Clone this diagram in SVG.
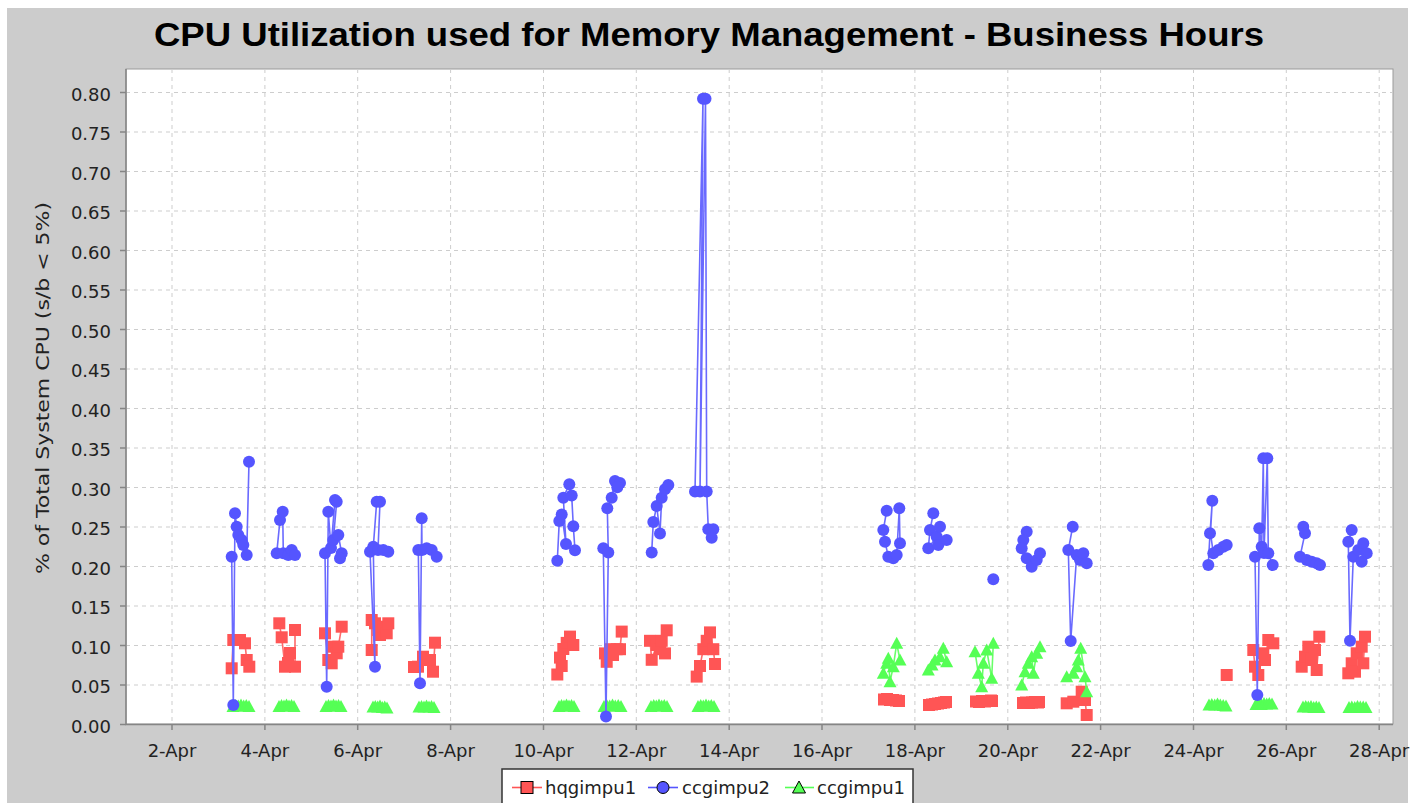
<svg xmlns="http://www.w3.org/2000/svg" xmlns:xlink="http://www.w3.org/1999/xlink" width="1426" height="803" viewBox="0 0 1426 803">
<style>
.lbl{font-family:"DejaVu Sans","Liberation Sans",sans-serif;font-size:18px;fill:#222}
.yl{text-anchor:end}
.xl{text-anchor:middle}
.grid{stroke:#cdcdcd;stroke-width:1;stroke-dasharray:4 4;fill:none}
.ln{fill:none;stroke-width:1.6;stroke-linejoin:round}
.rl{stroke:#ff6a6a}
.bl{stroke:#6a6aff}
.gl{stroke:#6aff6a}
</style>
<defs>
<rect id="s" x="-6" y="-6" width="12" height="12" fill="#ff5555"/>
<circle id="c" r="6" fill="#5555ff"/>
<path id="t" d="M0,-6.5L6.5,5.5H-6.5Z" fill="#55ff55"/>
</defs>
<rect x="0" y="0" width="1426" height="803" fill="#ffffff"/>
<rect x="7" y="8" width="1401" height="795" fill="#cccccc"/>
<text x="709" y="46" text-anchor="middle" font-family="Liberation Sans,Arial,sans-serif" font-weight="bold" font-size="34" textLength="1110" lengthAdjust="spacingAndGlyphs" fill="#000">CPU Utilization used for Memory Management - Business Hours</text>
<g id="plot">
<rect x="126" y="69" width="1267" height="655" fill="#ffffff" stroke="#9a9a9a" stroke-width="1"/>
<path class="grid" d="M172 69V724M264.9 69V724M357.7 69V724M450.6 69V724M543.5 69V724M636.3 69V724M729.2 69V724M822 69V724M914.9 69V724M1007.8 69V724M1100.6 69V724M1193.5 69V724M1286.3 69V724M1379.2 69V724M126 685H1393M126 645.5H1393M126 606H1393M126 566.5H1393M126 527H1393M126 487.5H1393M126 448H1393M126 408.5H1393M126 369H1393M126 329.5H1393M126 290H1393M126 250.5H1393M126 211H1393M126 171.5H1393M126 132H1393M126 92.5H1393"/>
</g>
<g id="axes" stroke="#858585" stroke-width="1.5" fill="none">
<path d="M126 69V724.5H1393"/>
<path d="M120 724.5H126M120 685H126M120 645.5H126M120 606H126M120 566.5H126M120 527H126M120 487.5H126M120 448H126M120 408.5H126M120 369H126M120 329.5H126M120 290H126M120 250.5H126M120 211H126M120 171.5H126M120 132H126M120 92.5H126"/>
<path d="M172 724.5V730M264.9 724.5V730M357.7 724.5V730M450.6 724.5V730M543.5 724.5V730M636.3 724.5V730M729.2 724.5V730M822 724.5V730M914.9 724.5V730M1007.8 724.5V730M1100.6 724.5V730M1193.5 724.5V730M1286.3 724.5V730M1379.2 724.5V730"/>
</g>
<g id="y-labels" class="lbl yl">
<text x="111" y="732.5">0.00</text>
<text x="111" y="693">0.05</text>
<text x="111" y="653.5">0.10</text>
<text x="111" y="614">0.15</text>
<text x="111" y="574.5">0.20</text>
<text x="111" y="535">0.25</text>
<text x="111" y="495.5">0.30</text>
<text x="111" y="456">0.35</text>
<text x="111" y="416.5">0.40</text>
<text x="111" y="377">0.45</text>
<text x="111" y="337.5">0.50</text>
<text x="111" y="298">0.55</text>
<text x="111" y="258.5">0.60</text>
<text x="111" y="219">0.65</text>
<text x="111" y="179.5">0.70</text>
<text x="111" y="140">0.75</text>
<text x="111" y="100.5">0.80</text>
</g>
<g id="x-labels" class="lbl xl">
<text x="172" y="757">2-Apr</text>
<text x="264.9" y="757">4-Apr</text>
<text x="357.7" y="757">6-Apr</text>
<text x="450.6" y="757">8-Apr</text>
<text x="543.5" y="757">10-Apr</text>
<text x="636.3" y="757">12-Apr</text>
<text x="729.2" y="757">14-Apr</text>
<text x="822" y="757">16-Apr</text>
<text x="914.9" y="757">18-Apr</text>
<text x="1007.8" y="757">20-Apr</text>
<text x="1100.6" y="757">22-Apr</text>
<text x="1193.5" y="757">24-Apr</text>
<text x="1286.3" y="757">26-Apr</text>
<text x="1379.2" y="757">28-Apr</text>
</g>
<text id="y-title" class="lbl" x="0" y="0" text-anchor="middle" font-size="19" textLength="372" lengthAdjust="spacingAndGlyphs" transform="translate(49,388) rotate(-90)">% of Total System CPU (s/b &lt; 5%)</text>
<g id="series-hqgimpu1">
<g class="ln rl">
<polyline points="231.7,668.3 233.3,640 240,640 245,643.3 246.7,660 249.3,666.7"/>
<polyline points="279.3,623.3 281.7,637.3 285,666.7 290,653 295,666.7 295,630"/>
<polyline points="325,633.3 328.3,660 331.7,663.3 333.3,646.7 336.7,653.3 338.3,646.7 341.7,626.7"/>
<polyline points="371.7,650 371.7,620 375,623.3 378.3,630 380,635 383.3,626.7 386.7,633.3 388.3,623.3"/>
<polyline points="414,667 418,666.7 423,656.7 426.7,660 430,660 433,671.7 435,642.7"/>
<polyline points="557.3,674.5 560,657.6 561.7,666 563.3,649 566.7,642.9 570,636.6 573.3,645"/>
<polyline points="605,653.4 606.7,661.8 610,649.2 616.7,649.2 620,649.2 621.7,631.6"/>
<polyline points="650,640.8 651.7,659.8 656.7,645 660,649.2 661.7,640.8 665,653.4 666.7,630.3"/>
<polyline points="696.7,676.6 700,666 703.3,649.2 706.7,640.8 710,632.4 713.3,649.2 715,664"/>
<polyline points="884,699.5 887,699 890,700 893,700 896,700.5 899,701"/>
<polyline points="929,705 932,704.5 935,704 938,703.5 941,703 944,702.5 946,702"/>
<polyline points="976,701.5 979,702 982,701 985,701.5 988,701 991,700.5 992,701"/>
<polyline points="1023,703 1026,702.5 1029,703 1032,702.5 1035,702 1038,702.5 1039,702"/>
<polyline points="1066.7,703.3 1073.3,701.7 1081.7,691.7 1085,700 1086.7,715"/>
<polyline points="1253.3,650 1255,666.7 1258.3,675 1263.3,653.3 1265,660 1268.3,640 1273.3,643.3"/>
<polyline points="1301.7,666.7 1305,656.7 1308.3,646.7 1311.7,660 1315,650 1316.7,670 1319.3,636.7"/>
<polyline points="1348.3,673.3 1351.7,663.3 1355,671.7 1356.7,653.3 1361.7,646.7 1363.3,663.3 1365,636.7"/>
</g>
<use href="#s" x="231.7" y="668.3"/><use href="#s" x="233.3" y="640"/><use href="#s" x="240" y="640"/><use href="#s" x="245" y="643.3"/><use href="#s" x="246.7" y="660"/><use href="#s" x="249.3" y="666.7"/>
<use href="#s" x="279.3" y="623.3"/><use href="#s" x="281.7" y="637.3"/><use href="#s" x="285" y="666.7"/><use href="#s" x="290" y="653"/><use href="#s" x="295" y="666.7"/><use href="#s" x="295" y="630"/><use href="#s" x="288" y="663"/>
<use href="#s" x="325" y="633.3"/><use href="#s" x="328.3" y="660"/><use href="#s" x="331.7" y="663.3"/><use href="#s" x="333.3" y="646.7"/><use href="#s" x="336.7" y="653.3"/><use href="#s" x="338.3" y="646.7"/><use href="#s" x="341.7" y="626.7"/>
<use href="#s" x="371.7" y="650"/><use href="#s" x="371.7" y="620"/><use href="#s" x="375" y="623.3"/><use href="#s" x="378.3" y="630"/><use href="#s" x="380" y="635"/><use href="#s" x="383.3" y="626.7"/><use href="#s" x="386.7" y="633.3"/><use href="#s" x="388.3" y="623.3"/>
<use href="#s" x="414" y="667"/><use href="#s" x="418" y="666.7"/><use href="#s" x="423" y="656.7"/><use href="#s" x="426.7" y="660"/><use href="#s" x="430" y="660"/><use href="#s" x="433" y="671.7"/><use href="#s" x="435" y="642.7"/>
<use href="#s" x="557.3" y="674.5"/><use href="#s" x="560" y="657.6"/><use href="#s" x="561.7" y="666"/><use href="#s" x="563.3" y="649"/><use href="#s" x="566.7" y="642.9"/><use href="#s" x="570" y="636.6"/><use href="#s" x="573.3" y="645"/>
<use href="#s" x="605" y="653.4"/><use href="#s" x="606.7" y="661.8"/><use href="#s" x="610" y="649.2"/><use href="#s" x="616.7" y="649.2"/><use href="#s" x="620" y="649.2"/><use href="#s" x="621.7" y="631.6"/><use href="#s" x="613" y="655"/>
<use href="#s" x="650" y="640.8"/><use href="#s" x="651.7" y="659.8"/><use href="#s" x="656.7" y="645"/><use href="#s" x="660" y="649.2"/><use href="#s" x="661.7" y="640.8"/><use href="#s" x="665" y="653.4"/><use href="#s" x="666.7" y="630.3"/>
<use href="#s" x="696.7" y="676.6"/><use href="#s" x="700" y="666"/><use href="#s" x="703.3" y="649.2"/><use href="#s" x="706.7" y="640.8"/><use href="#s" x="710" y="632.4"/><use href="#s" x="713.3" y="649.2"/><use href="#s" x="715" y="664"/>
<use href="#s" x="884" y="699.5"/><use href="#s" x="887" y="699"/><use href="#s" x="890" y="700"/><use href="#s" x="893" y="700"/><use href="#s" x="896" y="700.5"/><use href="#s" x="899" y="701"/>
<use href="#s" x="929" y="705"/><use href="#s" x="932" y="704.5"/><use href="#s" x="935" y="704"/><use href="#s" x="938" y="703.5"/><use href="#s" x="941" y="703"/><use href="#s" x="944" y="702.5"/><use href="#s" x="946" y="702"/>
<use href="#s" x="976" y="701.5"/><use href="#s" x="979" y="702"/><use href="#s" x="982" y="701"/><use href="#s" x="985" y="701.5"/><use href="#s" x="988" y="701"/><use href="#s" x="991" y="700.5"/><use href="#s" x="992" y="701"/>
<use href="#s" x="1023" y="703"/><use href="#s" x="1026" y="702.5"/><use href="#s" x="1029" y="703"/><use href="#s" x="1032" y="702.5"/><use href="#s" x="1035" y="702"/><use href="#s" x="1038" y="702.5"/><use href="#s" x="1039" y="702"/>
<use href="#s" x="1066.7" y="703.3"/><use href="#s" x="1073.3" y="701.7"/><use href="#s" x="1081.7" y="691.7"/><use href="#s" x="1085" y="700"/><use href="#s" x="1086.7" y="715"/>
<use href="#s" x="1226.7" y="675"/>
<use href="#s" x="1253.3" y="650"/><use href="#s" x="1255" y="666.7"/><use href="#s" x="1258.3" y="675"/><use href="#s" x="1263.3" y="653.3"/><use href="#s" x="1265" y="660"/><use href="#s" x="1268.3" y="640"/><use href="#s" x="1273.3" y="643.3"/>
<use href="#s" x="1301.7" y="666.7"/><use href="#s" x="1305" y="656.7"/><use href="#s" x="1308.3" y="646.7"/><use href="#s" x="1311.7" y="660"/><use href="#s" x="1315" y="650"/><use href="#s" x="1316.7" y="670"/><use href="#s" x="1319.3" y="636.7"/>
<use href="#s" x="1348.3" y="673.3"/><use href="#s" x="1351.7" y="663.3"/><use href="#s" x="1355" y="671.7"/><use href="#s" x="1356.7" y="653.3"/><use href="#s" x="1361.7" y="646.7"/><use href="#s" x="1363.3" y="663.3"/><use href="#s" x="1365" y="636.7"/>
</g>
<g id="series-ccgimpu1">
<g class="ln gl">
<polyline points="886.7,663.3 883.3,673.3 888.3,658.3 890,681.7 893.3,666.7 896.7,643.3 900,660"/>
<polyline points="928.3,670 935,660 940,656.7 943.3,648.3 946.7,661.7"/>
<polyline points="975,651.7 978.3,673.3 981.7,686.7 983.3,663.3 986.7,650 991.7,678.3 993.3,643.3"/>
<polyline points="1021.7,685 1025,671.7 1028.3,663.3 1031.7,656.7 1033.3,673.3 1036.7,653.3 1040,646.7"/>
<polyline points="1066.7,676.7 1073.3,673.3 1076.7,666.7 1078.3,660 1080.7,648.3 1085,676.7 1086.7,691.7"/>
</g>
<use href="#t" x="233" y="706.5"/><use href="#t" x="235.7" y="705.5"/><use href="#t" x="238.3" y="706"/><use href="#t" x="241" y="705"/><use href="#t" x="243.7" y="706"/><use href="#t" x="246.3" y="705.5"/><use href="#t" x="249" y="706.5"/>
<use href="#t" x="279" y="706.5"/><use href="#t" x="281.5" y="705.5"/><use href="#t" x="284" y="706"/><use href="#t" x="286.5" y="705"/><use href="#t" x="289" y="706"/><use href="#t" x="291.5" y="705.5"/><use href="#t" x="294" y="706.5"/>
<use href="#t" x="326" y="706.5"/><use href="#t" x="328.5" y="705.5"/><use href="#t" x="331" y="706"/><use href="#t" x="333.5" y="705"/><use href="#t" x="336" y="706"/><use href="#t" x="338.5" y="705.5"/><use href="#t" x="341" y="706.5"/>
<use href="#t" x="373" y="707"/><use href="#t" x="375.3" y="706.5"/><use href="#t" x="377.7" y="707"/><use href="#t" x="380" y="706"/><use href="#t" x="382.3" y="707.5"/><use href="#t" x="384.7" y="707"/><use href="#t" x="387" y="708"/>
<use href="#t" x="419" y="707"/><use href="#t" x="421.5" y="706.5"/><use href="#t" x="424" y="707"/><use href="#t" x="426.5" y="706"/><use href="#t" x="429" y="707"/><use href="#t" x="431.5" y="706.5"/><use href="#t" x="434" y="707.5"/>
<use href="#t" x="559" y="706.5"/><use href="#t" x="561.5" y="705.5"/><use href="#t" x="564" y="706"/><use href="#t" x="566.5" y="705"/><use href="#t" x="569" y="706"/><use href="#t" x="571.5" y="705.5"/><use href="#t" x="574" y="706.5"/>
<use href="#t" x="604" y="706.5"/><use href="#t" x="606.8" y="705.5"/><use href="#t" x="609.7" y="706"/><use href="#t" x="612.5" y="705"/><use href="#t" x="615.3" y="706"/><use href="#t" x="618.2" y="705.5"/><use href="#t" x="621" y="706.5"/>
<use href="#t" x="651" y="706.5"/><use href="#t" x="653.7" y="705.5"/><use href="#t" x="656.3" y="706"/><use href="#t" x="659" y="705"/><use href="#t" x="661.7" y="706"/><use href="#t" x="664.3" y="705.5"/><use href="#t" x="667" y="706.5"/>
<use href="#t" x="698" y="706.5"/><use href="#t" x="700.7" y="705.5"/><use href="#t" x="703.3" y="706"/><use href="#t" x="706" y="705"/><use href="#t" x="708.7" y="706"/><use href="#t" x="711.3" y="705.5"/><use href="#t" x="714" y="706.5"/>
<use href="#t" x="886.7" y="663.3"/><use href="#t" x="883.3" y="673.3"/><use href="#t" x="888.3" y="658.3"/><use href="#t" x="890" y="681.7"/><use href="#t" x="893.3" y="666.7"/><use href="#t" x="896.7" y="643.3"/><use href="#t" x="900" y="660"/>
<use href="#t" x="928.3" y="670"/><use href="#t" x="935" y="660"/><use href="#t" x="940" y="656.7"/><use href="#t" x="943.3" y="648.3"/><use href="#t" x="946.7" y="661.7"/><use href="#t" x="932" y="665"/>
<use href="#t" x="975" y="651.7"/><use href="#t" x="978.3" y="673.3"/><use href="#t" x="981.7" y="686.7"/><use href="#t" x="983.3" y="663.3"/><use href="#t" x="986.7" y="650"/><use href="#t" x="991.7" y="678.3"/><use href="#t" x="993.3" y="643.3"/>
<use href="#t" x="1021.7" y="685"/><use href="#t" x="1025" y="671.7"/><use href="#t" x="1028.3" y="663.3"/><use href="#t" x="1031.7" y="656.7"/><use href="#t" x="1033.3" y="673.3"/><use href="#t" x="1036.7" y="653.3"/><use href="#t" x="1040" y="646.7"/>
<use href="#t" x="1066.7" y="676.7"/><use href="#t" x="1073.3" y="673.3"/><use href="#t" x="1076.7" y="666.7"/><use href="#t" x="1078.3" y="660"/><use href="#t" x="1080.7" y="648.3"/><use href="#t" x="1085" y="676.7"/><use href="#t" x="1086.7" y="691.7"/>
<use href="#t" x="1209" y="705"/><use href="#t" x="1211.8" y="704.5"/><use href="#t" x="1214.7" y="705"/><use href="#t" x="1217.5" y="704"/><use href="#t" x="1220.3" y="705"/><use href="#t" x="1223.2" y="705.5"/><use href="#t" x="1226" y="706"/>
<use href="#t" x="1256" y="704.5"/><use href="#t" x="1258.7" y="704"/><use href="#t" x="1261.3" y="704.5"/><use href="#t" x="1264" y="703.5"/><use href="#t" x="1266.7" y="704"/><use href="#t" x="1269.3" y="703.5"/><use href="#t" x="1272" y="704"/>
<use href="#t" x="1303" y="707"/><use href="#t" x="1305.7" y="706.5"/><use href="#t" x="1308.3" y="707"/><use href="#t" x="1311" y="706.5"/><use href="#t" x="1313.7" y="707.5"/><use href="#t" x="1316.3" y="707"/><use href="#t" x="1319" y="707.5"/>
<use href="#t" x="1349" y="707.5"/><use href="#t" x="1351.8" y="707"/><use href="#t" x="1354.7" y="707.5"/><use href="#t" x="1357.5" y="706.5"/><use href="#t" x="1360.3" y="707"/><use href="#t" x="1363.2" y="707"/><use href="#t" x="1366" y="707.5"/>
</g>
<g id="series-ccgimpu2">
<g class="ln bl">
<polyline points="231.7,556.7 233.3,705 235,513.3 236.7,526.7 238.3,535 241.7,540 243.3,545 246.7,555 249,461.7"/>
<polyline points="276.7,553.3 280,520 282.7,511.7 283.3,553.3 288.3,555 291.7,550 295,555"/>
<polyline points="325,553.3 326.7,686.7 328.3,511.7 331,548 335,500 336.7,501.7 333.3,540 338.3,535 341.7,553.3 340,558.3"/>
<polyline points="370,551.7 375,666.7 373.3,546.7 376.7,501.7 380,501.7 378,550 383.3,550 388.3,551.7"/>
<polyline points="418.3,550 420,683.3 421.7,518.3 422,550 426.7,548.3 431.7,550 436.7,556.7"/>
<polyline points="557.3,560.8 559.3,520.9 561.7,514.5 566,544 563.3,497.7 569.3,484.2 571.7,495.6 573.3,526.3 575,550.3"/>
<polyline points="603.3,548.2 606,716.6 608.3,552.4 607.3,508.2 611.7,497.7 615,480.9 620,483 617.3,487.2"/>
<polyline points="651.7,552.4 653.3,522.1 656.7,506.1 660,533.5 661.7,497.7 665,489.3 668.3,485.1"/>
<polyline points="695,491.4 703,98.7 700,491.4 705.5,98.7 706.7,491.4 708.3,529.3 713.3,529.3 711.7,537.7"/>
<polyline points="886.7,510.7 883.3,530 885,541.7 888.3,556.7 893.3,558.3 896.7,555 899.3,508.3 900,543.3"/>
<polyline points="933.3,513.3 930,530 928.3,548.3 936.7,536.7 940,526.7 938.3,545 946.7,540"/>
<polyline points="1026.7,531.7 1023.3,540 1021.7,548.3 1026.7,558.3 1031.7,566.7 1036.7,560 1040,553.3"/>
<polyline points="1072.7,526.7 1068.3,550 1070.7,641 1076.7,555 1080,560 1083.3,553.3 1086.7,563.3"/>
<polyline points="1208.3,565 1210,533.3 1212.3,500.7 1210.5,533 1213.3,553.3 1218.3,550 1223.3,546.7 1226.7,545"/>
<polyline points="1255,556.7 1257.3,695 1259.3,528.3 1261.7,546.7 1263.3,458.3 1264,553 1267.3,458.3 1268.3,553.3 1272.7,565"/>
<polyline points="1303.3,526.7 1305,533.3 1300,556.7 1306.7,560 1311.7,561.7 1316.7,563.3 1320,565"/>
<polyline points="1351.7,530 1348.3,541.7 1350,640.7 1353.3,556.7 1358.3,550 1363.3,543.3 1366.7,553.3 1361.7,561.7"/>
</g>
<use href="#c" x="231.7" y="556.7"/><use href="#c" x="233.3" y="705"/><use href="#c" x="235" y="513.3"/><use href="#c" x="236.7" y="526.7"/><use href="#c" x="238.3" y="535"/><use href="#c" x="241.7" y="540"/><use href="#c" x="243.3" y="545"/><use href="#c" x="246.7" y="555"/><use href="#c" x="249" y="461.7"/>
<use href="#c" x="276.7" y="553.3"/><use href="#c" x="280" y="520"/><use href="#c" x="282.7" y="511.7"/><use href="#c" x="283.3" y="553.3"/><use href="#c" x="288.3" y="555"/><use href="#c" x="291.7" y="550"/><use href="#c" x="295" y="555"/>
<use href="#c" x="325" y="553.3"/><use href="#c" x="326.7" y="686.7"/><use href="#c" x="328.3" y="511.7"/><use href="#c" x="331" y="548"/><use href="#c" x="335" y="500"/><use href="#c" x="336.7" y="501.7"/><use href="#c" x="333.3" y="540"/><use href="#c" x="338.3" y="535"/><use href="#c" x="341.7" y="553.3"/><use href="#c" x="340" y="558.3"/>
<use href="#c" x="370" y="551.7"/><use href="#c" x="375" y="666.7"/><use href="#c" x="373.3" y="546.7"/><use href="#c" x="376.7" y="501.7"/><use href="#c" x="380" y="501.7"/><use href="#c" x="378" y="550"/><use href="#c" x="383.3" y="550"/><use href="#c" x="388.3" y="551.7"/>
<use href="#c" x="418.3" y="550"/><use href="#c" x="420" y="683.3"/><use href="#c" x="421.7" y="518.3"/><use href="#c" x="422" y="550"/><use href="#c" x="426.7" y="548.3"/><use href="#c" x="431.7" y="550"/><use href="#c" x="436.7" y="556.7"/>
<use href="#c" x="557.3" y="560.8"/><use href="#c" x="559.3" y="520.9"/><use href="#c" x="561.7" y="514.5"/><use href="#c" x="566" y="544"/><use href="#c" x="563.3" y="497.7"/><use href="#c" x="569.3" y="484.2"/><use href="#c" x="571.7" y="495.6"/><use href="#c" x="573.3" y="526.3"/><use href="#c" x="575" y="550.3"/>
<use href="#c" x="603.3" y="548.2"/><use href="#c" x="606" y="716.6"/><use href="#c" x="608.3" y="552.4"/><use href="#c" x="607.3" y="508.2"/><use href="#c" x="611.7" y="497.7"/><use href="#c" x="615" y="480.9"/><use href="#c" x="620" y="483"/><use href="#c" x="617.3" y="487.2"/>
<use href="#c" x="651.7" y="552.4"/><use href="#c" x="653.3" y="522.1"/><use href="#c" x="656.7" y="506.1"/><use href="#c" x="660" y="533.5"/><use href="#c" x="661.7" y="497.7"/><use href="#c" x="665" y="489.3"/><use href="#c" x="668.3" y="485.1"/>
<use href="#c" x="695" y="491.4"/><use href="#c" x="703" y="98.7"/><use href="#c" x="700" y="491.4"/><use href="#c" x="705.5" y="98.7"/><use href="#c" x="706.7" y="491.4"/><use href="#c" x="708.3" y="529.3"/><use href="#c" x="713.3" y="529.3"/><use href="#c" x="711.7" y="537.7"/>
<use href="#c" x="886.7" y="510.7"/><use href="#c" x="883.3" y="530"/><use href="#c" x="885" y="541.7"/><use href="#c" x="888.3" y="556.7"/><use href="#c" x="893.3" y="558.3"/><use href="#c" x="896.7" y="555"/><use href="#c" x="899.3" y="508.3"/><use href="#c" x="900" y="543.3"/>
<use href="#c" x="933.3" y="513.3"/><use href="#c" x="930" y="530"/><use href="#c" x="928.3" y="548.3"/><use href="#c" x="936.7" y="536.7"/><use href="#c" x="940" y="526.7"/><use href="#c" x="938.3" y="545"/><use href="#c" x="946.7" y="540"/>
<use href="#c" x="993.3" y="579.3"/>
<use href="#c" x="1026.7" y="531.7"/><use href="#c" x="1023.3" y="540"/><use href="#c" x="1021.7" y="548.3"/><use href="#c" x="1026.7" y="558.3"/><use href="#c" x="1031.7" y="566.7"/><use href="#c" x="1036.7" y="560"/><use href="#c" x="1040" y="553.3"/>
<use href="#c" x="1072.7" y="526.7"/><use href="#c" x="1068.3" y="550"/><use href="#c" x="1070.7" y="641"/><use href="#c" x="1076.7" y="555"/><use href="#c" x="1080" y="560"/><use href="#c" x="1083.3" y="553.3"/><use href="#c" x="1086.7" y="563.3"/>
<use href="#c" x="1208.3" y="565"/><use href="#c" x="1210" y="533.3"/><use href="#c" x="1212.3" y="500.7"/><use href="#c" x="1213.3" y="553.3"/><use href="#c" x="1218.3" y="550"/><use href="#c" x="1223.3" y="546.7"/><use href="#c" x="1226.7" y="545"/>
<use href="#c" x="1255" y="556.7"/><use href="#c" x="1257.3" y="695"/><use href="#c" x="1259.3" y="528.3"/><use href="#c" x="1261.7" y="546.7"/><use href="#c" x="1263.3" y="458.3"/><use href="#c" x="1264" y="553"/><use href="#c" x="1267.3" y="458.3"/><use href="#c" x="1268.3" y="553.3"/><use href="#c" x="1272.7" y="565"/>
<use href="#c" x="1303.3" y="526.7"/><use href="#c" x="1305" y="533.3"/><use href="#c" x="1300" y="556.7"/><use href="#c" x="1306.7" y="560"/><use href="#c" x="1311.7" y="561.7"/><use href="#c" x="1316.7" y="563.3"/><use href="#c" x="1320" y="565"/>
<use href="#c" x="1351.7" y="530"/><use href="#c" x="1348.3" y="541.7"/><use href="#c" x="1350" y="640.7"/><use href="#c" x="1353.3" y="556.7"/><use href="#c" x="1358.3" y="550"/><use href="#c" x="1363.3" y="543.3"/><use href="#c" x="1366.7" y="553.3"/><use href="#c" x="1361.7" y="561.7"/>
</g>
<g id="legend">
<rect x="502" y="769" width="411" height="44" fill="#ffffff" stroke="#333333" stroke-width="1.5"/>
<path d="M512 787.5H542" stroke="#ff5555" stroke-width="1.6"/>
<rect x="521" y="781.5" width="12" height="12" fill="#ff5555" stroke="#000" stroke-width="1"/>
<text class="lbl" x="545" y="794">hqgimpu1</text>
<path d="M648 787.5H678" stroke="#5555ff" stroke-width="1.6"/>
<circle cx="663" cy="787.5" r="6" fill="#5555ff" stroke="#000" stroke-width="1"/>
<text class="lbl" x="682" y="794">ccgimpu2</text>
<path d="M785 787.5H814" stroke="#55ff55" stroke-width="1.6"/>
<path d="M799,781L805.5,793H792.5Z" fill="#55ff55" stroke="#000" stroke-width="1"/>
<text class="lbl" x="817" y="794">ccgimpu1</text>
</g>
</svg>
